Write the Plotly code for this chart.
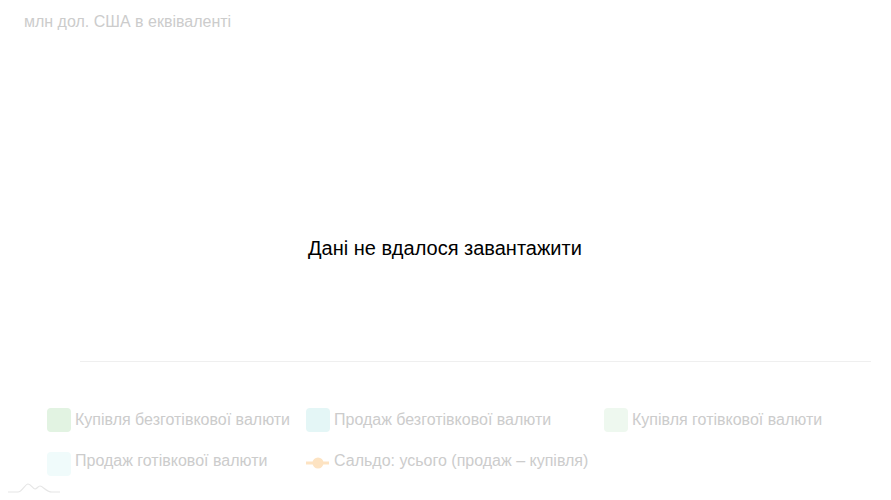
import plotly.graph_objects as go

# ---- data (failed to load: no values) ----
categories = []
buy_cashless = []
sell_cashless = []
buy_cash = []
sell_cash = []
balance_total = []

series_names = [
    "Купівля безготівкової валюти",
    "Продаж безготівкової валюти",
    "Купівля готівкової валюти",
    "Продаж готівкової валюти",
    "Сальдо: усього (продаж – купівля)",
]
series_colors = ["#e2f3e2", "#e4f6f6", "#eef8ef", "#f0fbfb", "#fde3c2"]

subtitle = "млн дол. США в еквіваленті"
message = "Дані не вдалося завантажити"

OFF = 8  # page body margin
W, H = 891 - OFF, 500 - OFF
# plot area in page pixels: x 80..871, bottom at 361
ML, MR, MT, MB = 80 - OFF, 891 - 871, 50 - OFF, 500 - 361
PW, PH = W - ML - MR, H - MT - MB


def px(x):
    return (x - OFF - ML) / PW


def py(y):
    return (H - MB - (y - OFF)) / PH


FONT = "Liberation Sans, Arial, sans-serif"

fig = go.Figure()
fig.add_trace(go.Bar(x=categories, y=buy_cashless, name=series_names[0],
                     marker_color=series_colors[0], showlegend=False))
fig.add_trace(go.Bar(x=categories, y=sell_cashless, name=series_names[1],
                     marker_color=series_colors[1], showlegend=False))
fig.add_trace(go.Bar(x=categories, y=buy_cash, name=series_names[2],
                     marker_color=series_colors[2], showlegend=False))
fig.add_trace(go.Bar(x=categories, y=sell_cash, name=series_names[3],
                     marker_color=series_colors[3], showlegend=False))
fig.add_trace(go.Scatter(x=categories, y=balance_total, name=series_names[4],
                         mode="lines+markers", line=dict(color=series_colors[4], width=3),
                         showlegend=False))

annotations = [
    dict(text=subtitle, xref="paper", yref="paper", x=px(22), y=py(21),
         xanchor="left", yanchor="middle", showarrow=False,
         font=dict(family=FONT, size=16, color="#cccccc")),
    dict(text=message, xref="paper", yref="paper", x=px(445), y=py(248),
         xanchor="center", yanchor="middle", showarrow=False,
         font=dict(family=FONT, size=20, color="#000000")),
]

shapes = []
# (symbol center x, symbol center y, text center y)
legend_pos = [(59, 420, 419), (318, 420, 419), (616, 420, 419), (59, 464, 461), (318, 463, 461)]
rsq = "M -8,-12 L 8,-12 Q 12,-12 12,-8 L 12,8 Q 12,12 8,12 L -8,12 Q -12,12 -12,8 L -12,-8 Q -12,-12 -8,-12 Z"
for i, (name, col) in enumerate(zip(series_names, series_colors)):
    cx, cy, ty = legend_pos[i]
    if i < 4:
        shapes.append(dict(type="path", xref="paper", yref="paper",
                           xsizemode="pixel", ysizemode="pixel",
                           xanchor=px(cx), yanchor=py(cy), path=rsq,
                           fillcolor=col, line=dict(width=0), layer="above"))
    else:
        shapes.append(dict(type="line", xref="paper", yref="paper",
                           x0=px(cx - 12), x1=px(cx + 11), y0=py(cy), y1=py(cy),
                           line=dict(color=col, width=3), layer="above"))
        shapes.append(dict(type="circle", xref="paper", yref="paper",
                           xsizemode="pixel", ysizemode="pixel",
                           xanchor=px(cx), yanchor=py(cy),
                           x0=-5.5, x1=5.5, y0=-5.5, y1=5.5,
                           fillcolor=col, line=dict(width=0), layer="above"))
    annotations.append(dict(text=name, xref="paper", yref="paper",
                            x=px(cx + 14), y=py(ty), xanchor="left", yanchor="middle",
                            showarrow=False,
                            font=dict(family=FONT, size=16, color="#cccccc")))

# faint logo bottom-left
shapes.append(dict(type="path", xref="paper", yref="paper",
                   xsizemode="pixel", ysizemode="pixel",
                   xanchor=px(6), yanchor=py(492),
                   path="M 0,0 L 12,0 C 16,0 19,8 22,8 C 25,8 27,3 29,3 C 31,3 32,6 34,6 C 37,6 40,0 46,0 L 54,0",
                   line=dict(color="#e6e6e6", width=1.2), layer="above"))

fig.update_layout(
    width=W, height=H,
    margin=dict(l=ML, r=MR, t=MT, b=MB),
    paper_bgcolor="white", plot_bgcolor="white",
    xaxis=dict(showline=True, linecolor="#efefef", linewidth=1, showgrid=False,
               zeroline=False, showticklabels=False, ticks="", fixedrange=True),
    yaxis=dict(visible=False, showgrid=False, zeroline=False, range=[0, 1], fixedrange=True),
    annotations=annotations,
    shapes=shapes,
    showlegend=False,
    font=dict(family=FONT),
)

fig.write_html("out.html", config={"displayModeBar": False})
